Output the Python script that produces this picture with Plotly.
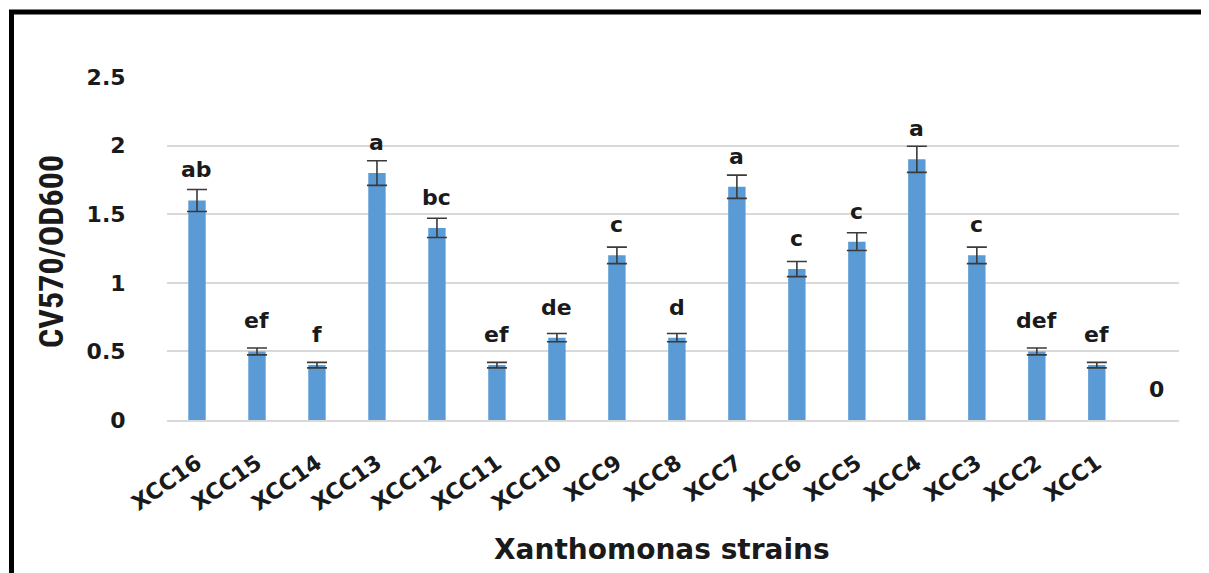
import plotly.graph_objects as go

categories = ["XCC16", "XCC15", "XCC14", "XCC13", "XCC12", "XCC11", "XCC10", "XCC9",
              "XCC8", "XCC7", "XCC6", "XCC5", "XCC4", "XCC3", "XCC2", "XCC1", " "]
values = [1.6, 0.5, 0.4, 1.8, 1.4, 0.4, 0.6, 1.2, 0.6, 1.7, 1.1, 1.3, 1.9, 1.2, 0.5, 0.4, 0]
errors = [0.08, 0.025, 0.02, 0.09, 0.07, 0.02, 0.03, 0.06, 0.03, 0.085, 0.055, 0.065,
          0.095, 0.06, 0.025, 0.02, 0]
letters = ["ab", "ef", "f", "a", "bc", "ef", "de", "c", "d", "a", "c", "c", "a", "c",
           "def", "ef", "0"]
y_ticks = [0, 0.5, 1, 1.5, 2, 2.5]
y_tick_text = ["0", "0.5", "1", "1.5", "2", "2.5"]

# page body has an 8px margin; figure sized so it fills the 1209x573 window
OFF = 8
W, H = 1209 - OFF, 573 - OFF
ML, MT = 167 - OFF, 77 - OFF
PR, PB = 1179 - OFF, 420 - OFF
MR, MB = W - PR, H - PB
pw, ph = W - ML - MR, H - MT - MB


def px_x(px):
    return (px - OFF - ML) / pw


def px_y(py):
    return (PB - (py - OFF)) / ph


# bars with a non-zero error get error bars; zero-error points are drawn without caps
with_err = [i for i, e in enumerate(errors) if e > 0]
no_err = [i for i, e in enumerate(errors) if e <= 0]

fig = go.Figure()
fig.add_trace(go.Bar(
    x=[categories[i] for i in with_err], y=[values[i] for i in with_err],
    marker=dict(color="#5B9BD5", line=dict(width=0)),
    error_y=dict(type="data", array=[errors[i] for i in with_err], visible=True,
                 color="#3a3a3a", thickness=1.6, width=10),
    width=0.29,
))
fig.add_trace(go.Bar(
    x=[categories[i] for i in no_err], y=[values[i] for i in no_err],
    marker=dict(color="#5B9BD5", line=dict(width=0)),
    width=0.29,
))

ann = []
for c, v, t in zip(categories, values, letters):
    ann.append(dict(x=c, y=v, xref="x", yref="y", text=t, showarrow=False,
                    yanchor="bottom", yshift=16,
                    font=dict(family="DejaVu Sans", size=22, color="#1a1a1a", weight="bold")))

ann.append(dict(x=px_x(51), y=px_y(252), xref="paper", yref="paper",
                text="CV570/OD600", textangle=-90, showarrow=False,
                xanchor="center", yanchor="middle",
                font=dict(family="Liberation Sans Narrow, Roboto Condensed, Roboto", size=34,
                          color="#1a1a1a", weight="bold")))
ann.append(dict(x=px_x(662), y=px_y(549), xref="paper", yref="paper",
                text="Xanthomonas strains", showarrow=False,
                xanchor="center", yanchor="middle",
                font=dict(family="DejaVu Sans", size=28, color="#1a1a1a", weight="bold")))

fig.update_layout(
    width=W, height=H,
    margin=dict(l=ML, r=MR, t=MT, b=MB, pad=0),
    paper_bgcolor="white", plot_bgcolor="white",
    showlegend=False, barmode="overlay",
    annotations=ann,
    shapes=[dict(type="rect", xref="paper", yref="paper",
                 x0=px_x(11.5), x1=1.2,
                 y0=-0.8, y1=px_y(12),
                 line=dict(color="black", width=5), fillcolor="rgba(0,0,0,0)")],
    xaxis=dict(
        type="category", categoryorder="array", categoryarray=categories,
        range=[-0.5, 16.37],
        tickangle=-35, showgrid=False, showline=True, linecolor="#d9d9d9", linewidth=1.5,
        ticks="outside", ticklen=20, tickcolor="rgba(0,0,0,0)",
        tickfont=dict(family="DejaVu Sans", size=22, color="#1a1a1a", weight="bold"),
    ),
    yaxis=dict(
        range=[0, 2.5], tickvals=y_ticks, ticktext=y_tick_text,
        showgrid=True, gridcolor="#d9d9d9", gridwidth=1.5, zeroline=False,
        showline=False, ticks="outside", ticklen=36, tickcolor="rgba(0,0,0,0)",
        tickfont=dict(family="DejaVu Sans", size=22, color="#1a1a1a", weight="bold"),
    ),
)

fig.write_html("out.html")
